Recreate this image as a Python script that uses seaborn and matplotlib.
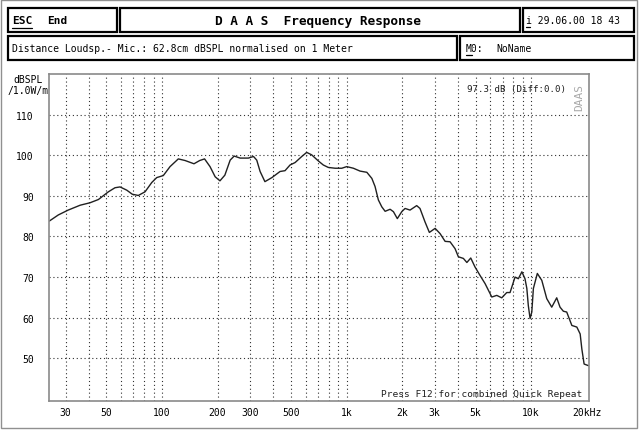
import matplotlib
matplotlib.use("Agg")
import matplotlib.pyplot as plt
from matplotlib.patches import Rectangle
from matplotlib.lines import Line2D
import seaborn as sns
import pandas as pd

# frequency response
freq_hz = [24.5, 27.4, 31.0, 36.0, 40.7, 45.2, 51.2, 55.6, 59.2, 64.4,
           69.0, 74.4, 80.9, 88.0, 93.6, 101.6, 110.5, 122.5, 133.3, 149,
           160, 170, 182, 194, 206, 219, 234, 246, 265, 294,
           313, 326, 340, 361, 394, 436, 464, 494, 526, 572,
           608, 647, 703, 748, 796, 867, 942, 1002, 1089, 1183,
           1288, 1371, 1427, 1487, 1552, 1618, 1722, 1795, 1884, 1991,
           2075, 2208, 2399, 2500, 2661, 2810, 3020, 3213, 3420, 3638,
           3873, 4036, 4296, 4487, 4710, 4966, 5290, 5632, 6124, 6516,
           6935, 7381, 7691, 8185, 8531, 8913, 9268, 9484, 9660, 9876,
           10090, 10290, 10810, 11430, 12160, 12940, 13770, 14350, 14960, 15600,
           16630, 17700, 18450, 18840, 19380, 20460]
level_db = [83.8, 85.3, 86.5, 87.7, 88.3, 89.1, 91.0, 92.0, 92.2, 91.4,
            90.4, 90.1, 91.0, 93.3, 94.5, 95.0, 97.2, 99.1, 98.7, 97.9,
            98.7, 99.1, 97.2, 94.7, 93.7, 95.1, 98.8, 99.8, 99.3, 99.3,
            99.7, 98.8, 96.0, 93.5, 94.5, 96.0, 96.2, 97.6, 98.2, 99.7,
            100.7, 100.1, 98.6, 97.6, 97.0, 96.8, 96.8, 97.2, 96.8, 96.1,
            95.8, 94.3, 92.3, 89.0, 87.3, 86.2, 86.7, 86.1, 84.4, 86.1,
            86.9, 86.5, 87.6, 86.9, 83.6, 81.0, 82.0, 80.7, 78.8, 78.7,
            77.0, 75.0, 74.6, 73.6, 74.7, 72.5, 70.4, 68.4, 65.1, 65.5,
            64.9, 66.2, 66.2, 70.0, 69.6, 71.3, 69.6, 67.2, 63.0, 59.8,
            61.4, 67.2, 70.9, 69.2, 64.7, 62.6, 64.9, 62.6, 61.6, 61.4,
            58.1, 57.7, 56.0, 52.3, 48.6, 48.2]

grid_freqs = [30, 40, 50, 60, 70, 80, 90, 100, 200, 300, 400, 500, 600, 700,
              800, 900, 1000, 2000, 3000, 4000, 5000, 6000, 7000, 8000, 9000,
              10000]
label_freqs = {30: "30", 50: "50", 100: "100", 200: "200", 300: "300",
               500: "500", 1000: "1k", 2000: "2k", 3000: "3k", 5000: "5k",
               10000: "10k", 20000: "20kHz"}
y_ticks = [50, 60, 70, 80, 90, 100, 110]

sns.set_theme(style="white")
plt.rcParams["font.family"] = ["DejaVu Sans Mono"]

W, H = 639, 431
fig = plt.figure(figsize=(W / 100, H / 100), dpi=100)
fig.patch.set_facecolor("white")


def fbox(x0, y0, x1, y1, lw=1.6, color="black"):
    fig.add_artist(Rectangle((x0 / W, 1 - y1 / H), (x1 - x0) / W, (y1 - y0) / H,
                             transform=fig.transFigure, fill=False,
                             lw=lw, edgecolor=color))


def ftext(x, y, s, **kw):
    fig.text(x / W, 1 - y / H, s, va="center", color="black", **kw)


def fline(x0, x1, y):
    fig.add_artist(Line2D([x0 / W, x1 / W], [1 - y / H, 1 - y / H],
                          transform=fig.transFigure, color="black", lw=0.9))


# outer frame and header boxes
fbox(1, 1, 637, 429, lw=1.0, color="#909090")
fbox(8, 9, 117, 33)
fbox(120, 9, 520, 33)
fbox(523, 9, 634, 33)
fbox(8, 37, 457, 61)
fbox(460, 37, 634, 61)

ftext(12, 21, "ESC", fontsize=8, fontweight="bold")
fline(12, 32, 29)
ftext(47, 21, "End", fontsize=8, fontweight="bold")
ftext(318, 21, "D A A S  Frequency Response", fontsize=9.2,
      fontweight="bold", ha="center")
ftext(526, 21, "i 29.06.00 18 43", fontsize=7)
fline(526, 530, 28)
ftext(12, 49, "Distance Loudsp.- Mic.: 62.8cm dBSPL normalised on 1 Meter",
      fontsize=7)
ftext(466, 49, "M0:", fontsize=7)
fline(466, 472, 56)
ftext(496, 49, "NoName", fontsize=7)
ftext(28, 80, "dBSPL", fontsize=7, ha="center")
ftext(28, 91, "/1.0W/m", fontsize=7, ha="center")

ax = fig.add_axes([49 / W, 1 - 402 / H, 540 / W, 327 / H])
df = pd.DataFrame({"freq": freq_hz, "level": level_db})
sns.lineplot(data=df, x="freq", y="level", sort=False, ax=ax,
             color="#202020", lw=1.0)
ax.set_xscale("log")
ax.set_xlim(24.4, 20600)
ax.set_ylim(39.5, 120)

ax.set_xticks(grid_freqs + [20000])
ax.set_xticklabels([label_freqs.get(f, "") for f in grid_freqs + [20000]])
ax.xaxis.set_minor_locator(matplotlib.ticker.NullLocator())
ax.set_yticks(y_ticks)
ax.set_yticklabels([str(v) for v in y_ticks])
ax.tick_params(axis="both", length=0, labelsize=7, colors="black")
ax.tick_params(axis="x", pad=4)
ax.tick_params(axis="y", pad=11)
ax.set_xlabel("")
ax.set_ylabel("")

for f in grid_freqs:
    ax.axvline(f, color="#303030", lw=0.8, ls=(0, (1, 2.5)), zorder=0)
for v in y_ticks:
    ax.axhline(v, color="#303030", lw=0.8, ls=(0, (1, 2.5)), zorder=0)
for sp in ax.spines.values():
    sp.set_color("#8a8a8a")
    sp.set_linewidth(1.2)

ax.text(0.957, 0.955, "97.3 dB (Diff:0.0)", transform=ax.transAxes,
        fontsize=6.6, ha="right", va="center", color="#202020")
ax.text(0.982, 0.93, "DAAS", transform=ax.transAxes, fontsize=8,
        rotation=90, ha="center", va="center", color="#a8a8a8")
ax.text(0.988, 0.022, "Press F12 for combined Quick Repeat",
        transform=ax.transAxes, fontsize=6.8, ha="right", va="center",
        color="#202020")

fig.savefig("out.png", dpi=100)
